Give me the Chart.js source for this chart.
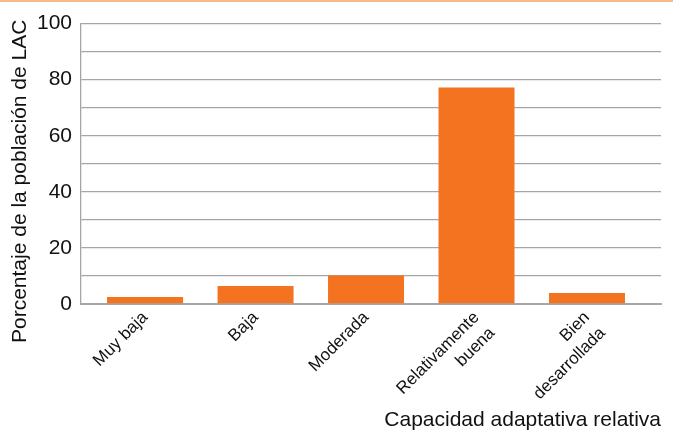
<!DOCTYPE html>
<html>
<head>
<meta charset="utf-8">
<script src="https://cdn.jsdelivr.net/npm/chart.js@4"></script>
<style>
  html, body { margin: 0; padding: 0; background: #fff; }
  body { border-top: 2px solid #F7B98C; box-sizing: border-box; width: 673px; height: 432px; }
  #wrap { position: relative; width: 673px; height: 430px; }
</style>
</head>
<body>
<div id="wrap"><canvas id="c"></canvas></div>
<script>
  // ---- data ----
  var CATEGORIES = ["Muy baja", "Baja", "Moderada", ["Relativamente", "buena"], ["Bien", "desarrollada"]];
  var VALUES = [2.5, 6.4, 10.2, 77.2, 3.9];
  var Y_TICKS = [0, 20, 40, 60, 80, 100];

  var ORANGE = "#F47321";
  var GRID = "#A6A6A6";
  var FONT = "'Liberation Sans', Arial, sans-serif";

  // categories sit on a numeric axis so the plot frame can run a bit wider than the bars
  var points = VALUES.map(function (v, i) { return { x: i, y: v }; });

  new Chart(document.getElementById("c"), {
    type: "bar",
    data: { datasets: [{ data: points, backgroundColor: ORANGE, borderWidth: 0,
      barPercentage: 1, categoryPercentage: 0.688 }] },
    options: {
      responsive: true, maintainAspectRatio: false, animation: false,
      layout: { padding: { top: 4, right: 12, left: 0, bottom: 0 } },
      plugins: { legend: { display: false }, tooltip: { enabled: false } },
      scales: {
        x: {
          type: "linear", min: -0.58, max: 4.67, offset: false,
          afterFit: function (s) { s.height = 128; },
          grid: { display: false, drawTicks: false, offset: false },
          border: { color: GRID, width: 2 },
          ticks: { stepSize: 1, includeBounds: false, autoSkip: false, color: "#111",
            font: { family: FONT, size: 17, lineHeight: 1.3 }, minRotation: 45, maxRotation: 45, padding: 3,
            callback: function (v) { return CATEGORIES[v]; } },
          title: { display: true, text: "Capacidad adaptativa relativa", align: "end", color: "#111",
            font: { family: FONT, size: 21, lineHeight: 1.1 }, padding: { top: 0, bottom: 0 } }
        },
        y: {
          min: 0, max: 100,
          afterFit: function (s) { s.width = 81; },
          grid: { color: GRID, lineWidth: 1.3, drawTicks: false },
          border: { color: GRID, width: 1.3 },
          ticks: { stepSize: 10, autoSkip: false, padding: 9, color: "#111", font: { family: FONT, size: 21 },
            callback: function (v) { return Y_TICKS.indexOf(v) >= 0 ? String(v) : ""; } },
          title: { display: true, text: "Porcentaje de la población de LAC\u00a0\u00a0\u00a0\u00a0\u00a0\u00a0", color: "#111",
            font: { family: FONT, size: 21, lineHeight: 1.2 }, padding: { top: 8, bottom: 0 } }
        }
      }
    }
  });
</script>
</body>
</html>
